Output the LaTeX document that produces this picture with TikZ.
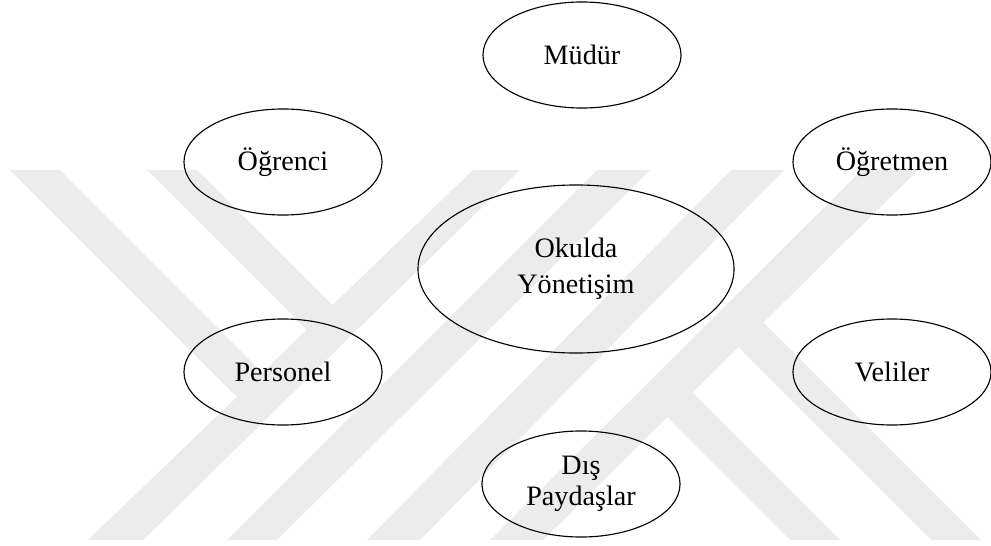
\documentclass[tikz,border=0pt]{standalone}
\usepackage{fontspec}
\setmainfont{Liberation Serif}
\usetikzlibrary{shapes.geometric}
\definecolor{wmgray}{RGB}{236,236,236}

\begin{document}
\begin{tikzpicture}[x=0.025cm,y=-0.025cm,
  actor/.style={ellipse,draw,line width=0.8pt,inner sep=0pt,minimum width=4.95cm,minimum height=2.65cm,align=center,font=\fontsize{20}{25.5}\selectfont},
  core/.style={actor,minimum width=7.9cm,minimum height=4.2cm},
  band/.style={fill=wmgray}]
\useasboundingbox (0,0) rectangle (991,545);
\fill[band] (10,170) -- (60,170) -- (275,385) -- (250,410) -- cycle;
\fill[band] (147,170) -- (197,170) -- (345,318) -- (320,343) -- cycle;
\fill[band] (88,540) -- (143,540) -- (520,170) -- (473,170) -- cycle;
\fill[band] (227,540) -- (277,540) -- (650,170) -- (597,170) -- cycle;
\fill[band] (367,540) -- (420,540) -- (784,170) -- (731,170) -- cycle;
\fill[band] (490,540) -- (543,540) -- (918,170) -- (862,170) -- cycle;
\fill[band] (750,309) -- (981,540) -- (931,540) -- (726,335) -- cycle;
\fill[band] (680,380) -- (840,540) -- (790,540) -- (655,405) -- cycle;
\node[actor] (mudur) at(582,55){Müdür};
\node[actor] (ogrenci) at(283,162){Öğrenci};
\node[actor] (ogretmen) at(892,162){Öğretmen};
\node[core] (yonetisim) at(576,269){Okulda\\Yönetişim};
\node[actor] (personel) at(283,372){Personel};
\node[actor] (veliler) at(892,372){Veliler};
\node[actor] (paydas) at(581,484){Dış\\[-3pt]Paydaşlar};
\end{tikzpicture}
\end{document}
